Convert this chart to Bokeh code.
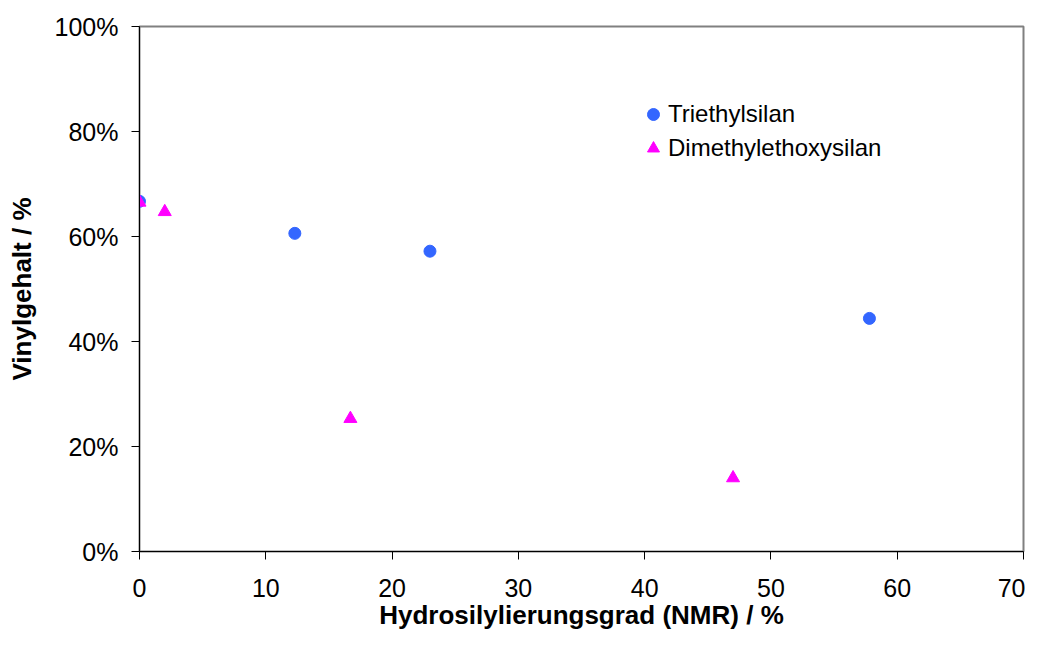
from bokeh.plotting import figure
from bokeh.models import Range1d, NumeralTickFormatter, FixedTicker, Legend, LegendItem
from bokeh.embed import file_html
from bokeh.resources import INLINE

# Data
triethyl_x = [0.0, 12.3, 23.0, 57.8]
triethyl_y = [0.667, 0.606, 0.572, 0.444]
dimethyl_x = [0.0, 2.0, 16.7, 47.0]
dimethyl_y = [0.665, 0.647, 0.253, 0.140]
series_names = ["Triethylsilan", "Dimethylethoxysilan"]
x_ticks = [0, 10, 20, 30, 40, 50, 60, 70]
y_ticks = [0, 0.2, 0.4, 0.6, 0.8, 1.0]
x_title = "Hydrosilylierungsgrad (NMR) / %"
y_title = "Vinylgehalt / %"

FONT = "Liberation Sans"

p = figure(width=1025, height=632, output_backend="svg", toolbar_location=None,
           x_range=Range1d(0, 70), y_range=Range1d(0, 1.0),
           min_border_left=139, min_border_right=2, min_border_top=26, min_border_bottom=80)
p.background_fill_color = "white"
p.border_fill_color = "white"
p.outline_line_color = "#808080"
p.outline_line_width = 2
p.xgrid.visible = False
p.ygrid.visible = False

for ax in (p.xaxis[0], p.yaxis[0]):
    ax.axis_line_color = "black"
    ax.axis_line_width = 1
    ax.major_tick_line_color = "black"
    ax.major_tick_in = 0
    ax.major_tick_out = 8
    ax.minor_tick_line_color = None
    ax.major_label_text_font = FONT
    ax.major_label_text_font_size = "25px"
    ax.major_label_text_color = "black"
    ax.axis_label_text_font = FONT
    ax.axis_label_text_font_size = "26px"
    ax.axis_label_text_font_style = "bold"
    ax.axis_label_text_color = "black"

p.xaxis.ticker = FixedTicker(ticks=x_ticks)
p.yaxis.ticker = FixedTicker(ticks=y_ticks)
p.yaxis.formatter = NumeralTickFormatter(format="0%")
p.xaxis.axis_label = x_title
p.yaxis.axis_label = y_title
p.xaxis.major_label_standoff = 19
p.xaxis.axis_label_standoff = 0
p.yaxis.major_label_standoff = 13
p.yaxis.axis_label_standoff = 15

r1 = p.scatter(triethyl_x, triethyl_y, marker="circle", size=12,
               fill_color="#3366FF", line_color="#3366FF")
r2 = p.scatter(dimethyl_x, dimethyl_y, marker="triangle", size=13,
               fill_color="#FF00FF", line_color="#FF00FF")

legend = Legend(items=[LegendItem(label=series_names[0], renderers=[r1]),
                       LegendItem(label=series_names[1], renderers=[r2])],
                location=(499, 388))
legend.label_text_font = FONT
legend.label_text_font_size = "24px"
legend.label_text_color = "black"
legend.glyph_width = 30
legend.glyph_height = 30
legend.label_standoff = 0
legend.spacing = 4
legend.padding = 0
legend.margin = 0
legend.border_line_color = None
legend.background_fill_alpha = 0
p.add_layout(legend)

open("out.html", "w").write(file_html(p, INLINE))
